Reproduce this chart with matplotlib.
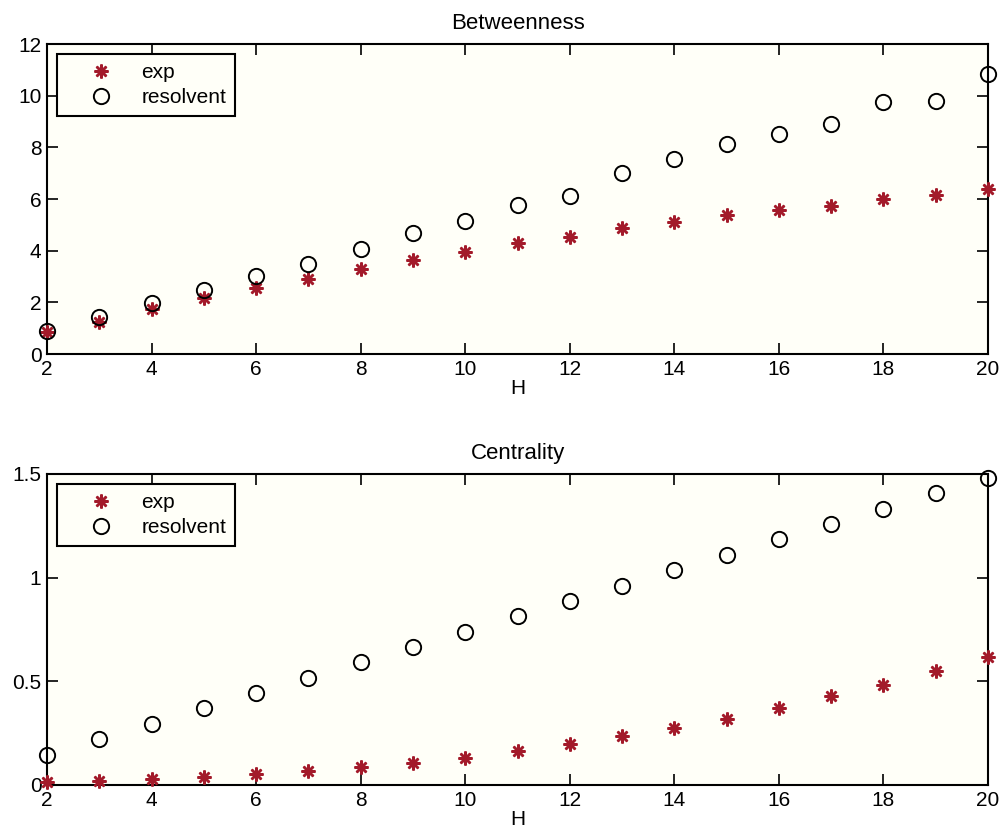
import numpy as np
import matplotlib
matplotlib.use('Agg')
from matplotlib import pyplot as plt

plt.rcParams['font.family'] = ['Liberation Sans', 'DejaVu Sans']

H = np.arange(2, 21)

# Betweenness
btw_exp = [0.86, 1.25, 1.73, 2.15, 2.57, 2.89, 3.28, 3.64, 3.96, 4.30,
           4.52, 4.86, 5.10, 5.37, 5.56, 5.74, 6.01, 6.17, 6.37]
btw_res = [0.89, 1.45, 1.99, 2.48, 3.03, 3.47, 4.06, 4.67, 5.15, 5.75,
           6.13, 6.99, 7.54, 8.14, 8.50, 8.89, 9.77, 9.78, 10.84]

# Centrality
cen_exp = [0.016, 0.021, 0.031, 0.040, 0.053, 0.068, 0.085, 0.108, 0.132, 0.163,
           0.198, 0.235, 0.277, 0.320, 0.370, 0.427, 0.483, 0.552, 0.618]
cen_res = [0.146, 0.222, 0.295, 0.369, 0.444, 0.517, 0.592, 0.666, 0.739, 0.814,
           0.888, 0.962, 1.037, 1.109, 1.185, 1.260, 1.333, 1.408, 1.482]

xticks = [2, 4, 6, 8, 10, 12, 14, 16, 18, 20]

red = '#a31a2a'
bg = '#fffff8'


def draw(ax, y_exp, y_res, title, ylim, yticks, yticklabels):
    ax.set_facecolor(bg)
    ax.plot(H, y_exp, linestyle='none', marker=(8, 2, 0), markersize=10,
            markeredgecolor=red, markerfacecolor=red, markeredgewidth=1.8,
            label='exp', clip_on=False, zorder=3)
    ax.plot(H, y_res, linestyle='none', marker='o', markersize=11,
            markeredgecolor='black', markerfacecolor='none', markeredgewidth=1.4,
            label='resolvent', clip_on=False, zorder=3)
    ax.set_xlim(2, 20)
    ax.set_ylim(*ylim)
    ax.set_xticks(xticks)
    ax.set_yticks(yticks)
    ax.set_yticklabels(yticklabels)
    ax.tick_params(direction='in', length=8, width=1.2, top=True, right=True,
                   labelsize=15, pad=4)
    for s in ax.spines.values():
        s.set_linewidth(1.5)
    ax.set_title(title, fontsize=16, pad=11)
    ax.set_xlabel('H', fontsize=15, labelpad=0)
    leg = ax.legend(loc='upper left', fontsize=15, fancybox=False, framealpha=1,
                    edgecolor='black', facecolor=bg, borderpad=0.42,
                    handletextpad=0.25, handlelength=3.35, labelspacing=0.3,
                    borderaxespad=0.5)
    leg.get_frame().set_linewidth(1.5)


fig = plt.figure(figsize=(10.01, 8.34), dpi=100)
ax1 = fig.add_axes([0.047, 0.5755, 0.940, 0.3717])
ax2 = fig.add_axes([0.047, 0.0588, 0.940, 0.3729])

draw(ax1, btw_exp, btw_res, 'Betweenness', (0, 12), [0, 2, 4, 6, 8, 10, 12],
     ['0', '2', '4', '6', '8', '10', '12'])
draw(ax2, cen_exp, cen_res, 'Centrality', (0, 1.5), [0, 0.5, 1, 1.5],
     ['0', '0.5', '1', '1.5'])

fig.savefig('out.png', dpi=100)
